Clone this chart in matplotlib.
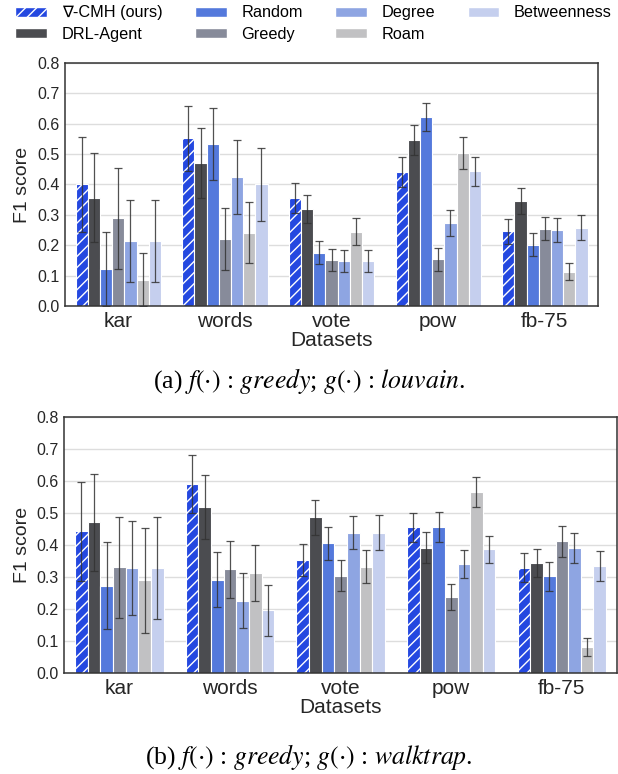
import numpy as np
import matplotlib
matplotlib.use("Agg")
import matplotlib.pyplot as plt
from matplotlib.patches import Patch

plt.rcParams['font.family'] = ['Liberation Sans', 'DejaVu Sans']
plt.rcParams['mathtext.fontset'] = 'stix'
plt.rcParams['hatch.linewidth'] = 1.0

datasets = ['kar', 'words', 'vote', 'pow', 'fb-75']
methods = ['∇-CMH (ours)', 'DRL-Agent', 'Random', 'Greedy', 'Degree', 'Roam', 'Betweenness']
colors = ['#2448e0', '#4b4c50', '#5479dc', '#878b9a', '#8ea5e2', '#c1c1c3', '#c5cfee']

# (a) greedy / louvain : mean per method, rows = datasets
louvain_mean = [
    [0.400, 0.356, 0.121, 0.288, 0.214, 0.087, 0.214],
    [0.552, 0.471, 0.533, 0.220, 0.425, 0.241, 0.400],
    [0.355, 0.319, 0.175, 0.151, 0.148, 0.245, 0.148],
    [0.440, 0.546, 0.623, 0.153, 0.273, 0.503, 0.443],
    [0.246, 0.345, 0.202, 0.254, 0.251, 0.112, 0.258],
]
louvain_std = [
    [0.157, 0.146, 0.122, 0.165, 0.134, 0.088, 0.134],
    [0.107, 0.115, 0.118, 0.103, 0.121, 0.100, 0.120],
    [0.050, 0.047, 0.038, 0.036, 0.036, 0.043, 0.035],
    [0.050, 0.049, 0.046, 0.037, 0.044, 0.052, 0.047],
    [0.041, 0.042, 0.038, 0.038, 0.040, 0.028, 0.040],
]

# (b) greedy / walktrap
walktrap_mean = [
    [0.443, 0.471, 0.272, 0.331, 0.329, 0.290, 0.329],
    [0.590, 0.519, 0.292, 0.324, 0.226, 0.313, 0.196],
    [0.353, 0.487, 0.405, 0.304, 0.439, 0.332, 0.439],
    [0.455, 0.392, 0.455, 0.238, 0.340, 0.566, 0.386],
    [0.329, 0.344, 0.302, 0.411, 0.391, 0.080, 0.334],
]
walktrap_std = [
    [0.154, 0.152, 0.136, 0.158, 0.147, 0.164, 0.160],
    [0.090, 0.099, 0.085, 0.090, 0.085, 0.087, 0.079],
    [0.051, 0.055, 0.052, 0.049, 0.052, 0.052, 0.055],
    [0.046, 0.048, 0.047, 0.040, 0.044, 0.046, 0.042],
    [0.046, 0.043, 0.045, 0.047, 0.046, 0.028, 0.048],
]

fig = plt.figure(figsize=(6.18, 7.74), dpi=100)
ax1 = fig.add_axes([0.105, 0.6047, 0.863, 0.314])
ax2 = fig.add_axes([0.1036, 0.1305, 0.895, 0.3307])


def draw(ax, mean, std):
    mean = np.array(mean)
    std = np.array(std)
    x = np.arange(len(datasets))
    n = len(methods)
    w = 0.8 / n
    ax.set_axisbelow(True)
    ax.yaxis.grid(True, color='#dddddd', linewidth=1.0)
    for i in range(n):
        pos = x - 0.4 + w * (i + 0.5)
        ax.bar(pos, mean[:, i], w, color=colors[i], edgecolor='white', linewidth=0.8,
               hatch='///' if i == 0 else None, zorder=2)
        ax.errorbar(pos, mean[:, i], yerr=std[:, i], fmt='none', ecolor='#333333',
                    elinewidth=0.9, capsize=3, capthick=0.9, alpha=0.85, zorder=3)
    ax.set_xlim(-0.5, len(datasets) - 0.5)
    ax.set_ylim(0, 0.8)
    ax.set_yticks(np.arange(0, 0.81, 0.1))
    ax.set_yticklabels([f'{v:.1f}' for v in np.arange(0, 0.81, 0.1)], fontsize=11.5, color='#262626')
    ax.set_xticks(x)
    ax.set_xticklabels(datasets, fontsize=15, color='#262626')
    ax.tick_params(length=0, pad=4)
    ax.set_ylabel('F1 score', fontsize=14, color='#262626')
    ax.set_xlabel('Datasets', fontsize=15, color='#262626', labelpad=0)
    for s in ax.spines.values():
        s.set_color('#333333')
        s.set_linewidth(1.1)


draw(ax1, louvain_mean, louvain_std)
draw(ax2, walktrap_mean, walktrap_std)

handles = [Patch(facecolor=c, edgecolor='white', hatch='///' if i == 0 else None)
           for i, c in enumerate(colors)]
fig.legend(handles, methods, loc='upper left', bbox_to_anchor=(0.025, 0.993),
           ncol=4, frameon=False, fontsize=11.7,
           handlelength=1.95, handleheight=0.6, handletextpad=0.9,
           columnspacing=2.0, labelspacing=0.4, borderaxespad=0.0, borderpad=0.0)

fig.text(0.5, 1 - 381 / 774, r'(a) $f(\cdot)$ : $\mathit{greedy}$; $g(\cdot)$ : $\mathit{louvain}$.',
         ha='center', va='center', fontsize=18.5, family='Liberation Serif')
fig.text(0.5, 1 - 757 / 774, r'(b) $f(\cdot)$ : $\mathit{greedy}$; $g(\cdot)$ : $\mathit{walktrap}$.',
         ha='center', va='center', fontsize=18.5, family='Liberation Serif')

fig.savefig('out.png', dpi=100)
